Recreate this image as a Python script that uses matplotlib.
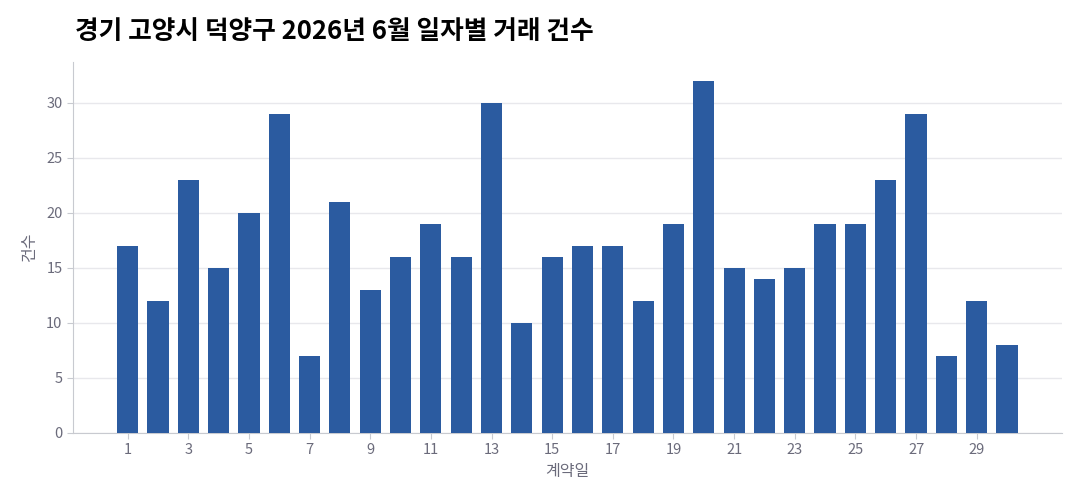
import matplotlib
matplotlib.use("Agg")
import matplotlib.pyplot as plt

plt.rcParams['font.family'] = ['Noto Sans CJK KR', 'DejaVu Sans']

days = list(range(1, 31))
counts = [17, 12, 23, 15, 20, 29, 7, 21, 13, 16, 19, 16, 30, 10, 16,
          17, 17, 12, 19, 32, 15, 14, 15, 19, 19, 23, 29, 7, 12, 8]
xticks = list(range(1, 31, 2))
yticks = [0, 5, 10, 15, 20, 25, 30]
title = "경기 고양시 덕양구 2026년 6월 일자별 거래 건수"

fig = plt.figure(figsize=(10.8, 5.04), dpi=100)
ax = fig.add_axes([0.0676, 0.141, 0.9154, 0.736])
ax.bar(days, counts, width=0.7, color='#2B5BA0', zorder=3)
ax.set_xlim(-0.8, 31.8)
ax.set_ylim(0, 33.7)
ax.set_xticks(xticks)
ax.set_yticks(yticks)
ax.grid(axis='y', color='#E8E8EC', linewidth=1, zorder=0)
for s in ['top', 'right']:
    ax.spines[s].set_visible(False)
for s in ['left', 'bottom']:
    ax.spines[s].set_color('#C8CAD0')
ax.tick_params(colors='#C8CAD0', labelcolor='#6B6B7B', labelsize=10.5, length=4)
ax.set_xlabel('계약일', fontsize=11.5, color='#6B6B7B', labelpad=4)
ax.set_ylabel('건수', fontsize=11.5, color='#6B6B7B', labelpad=6)
fig.text(0.069, 0.937, title, fontsize=18.5, fontweight='bold', color='#000000', va='center', ha='left')
fig.savefig('out.png', dpi=100)
